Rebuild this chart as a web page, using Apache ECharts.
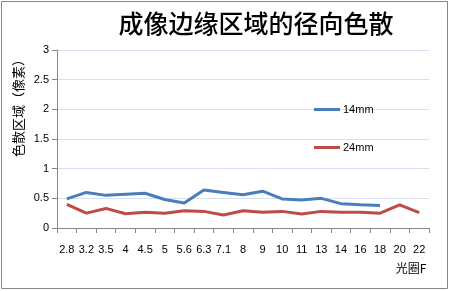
<!DOCTYPE html>
<html><head><meta charset="utf-8">
<script src="https://cdn.jsdelivr.net/npm/echarts@6/dist/echarts.min.js"></script>
<style>html,body{margin:0;padding:0;background:#fff}#c{width:449px;height:291px}</style>
</head><body><div id="c"></div>
<script>
var categories = ['2.8','3.2','3.5','4','4.5','5','5.6','6.3','7.1','8','9','10','11','13','14','16','18','20','22'];
var s14 = [0.49,0.60,0.55,0.57,0.585,0.48,0.42,0.64,0.60,0.56,0.62,0.49,0.47,0.50,0.41,0.39,0.38,null,null];
var s24 = [0.40,0.25,0.33,0.24,0.265,0.25,0.29,0.28,0.22,0.29,0.265,0.28,0.235,0.28,0.265,0.265,0.25,0.39,0.26];
var yTicks = [0,0.5,1,1.5,2,2.5,3];
var titleText = '成像边缘区域的径向色散';
var yName = '色散区域（像素）';
var xName = '光圈F';
var names = ['14mm','24mm'];
var colors = ['#4A7EBB','#BE4B48'];

var chart = echarts.init(document.getElementById('c'), null, {renderer:'canvas'});
var font = '"Liberation Sans", Arial, sans-serif';
var cjk = '"Noto Sans CJK SC", sans-serif';
chart.setOption({
  animation:false,
  backgroundColor:'#fff',
  title:{text:titleText, left:251, top:6, textAlign:'center',
    textStyle:{fontFamily:cjk, fontSize:25, fontWeight:500, color:'#000'}},
  grid:{left:57, right:20, top:50, bottom:63},
  legend:[
    {data:[names[0]], left:314, top:104, padding:0, orient:'vertical', icon:'rect', itemWidth:26, itemHeight:3, itemGap:4,
     textStyle:{fontFamily:font, fontSize:11, color:'#000', padding:[0,0,0,-2]}},
    {data:[names[1]], left:314, top:142, padding:0, orient:'vertical', icon:'rect', itemWidth:26, itemHeight:3, itemGap:4,
     textStyle:{fontFamily:font, fontSize:11, color:'#000', padding:[0,0,0,-2]}}
  ],
  xAxis:{type:'category', data:categories, boundaryGap:true,
    axisLine:{lineStyle:{color:'#868686'}},
    axisTick:{show:true, alignWithLabel:false, length:5, lineStyle:{color:'#868686'}},
    axisLabel:{interval:0, fontFamily:font, fontSize:11, color:'#000', margin:16}},
  yAxis:{type:'value', min:yTicks[0], max:yTicks[yTicks.length-1], interval:0.5,
    axisLine:{show:true, lineStyle:{color:'#868686'}},
    axisTick:{show:true, length:5, lineStyle:{color:'#868686'}},
    splitLine:{lineStyle:{color:'#D6E0EE'}},
    axisLabel:{fontFamily:font, fontSize:11, color:'#000', margin:8}},
  graphic:[
    {type:'rect', shape:{x:1.5, y:1.5, width:446, height:287}, style:{fill:'none', stroke:'#868686', lineWidth:1}},
    {type:'text', x:18, y:105, rotation:Math.PI/2, style:{text:yName, fontFamily:cjk, fontSize:13, fill:'#000', textAlign:'center', textVerticalAlign:'middle'}},
    {type:'text', x:411, y:268, style:{text:xName, fontFamily:cjk, fontSize:12, fill:'#000', textAlign:'center', textVerticalAlign:'middle'}}
  ],
  series:[
    {name:names[0], type:'line', data:s14, symbol:'none', connectNulls:false,
     lineStyle:{width:3, color:colors[0]}, itemStyle:{color:colors[0]}},
    {name:names[1], type:'line', data:s24, symbol:'none',
     lineStyle:{width:3, color:colors[1]}, itemStyle:{color:colors[1]}}
  ]
});
</script></body></html>
